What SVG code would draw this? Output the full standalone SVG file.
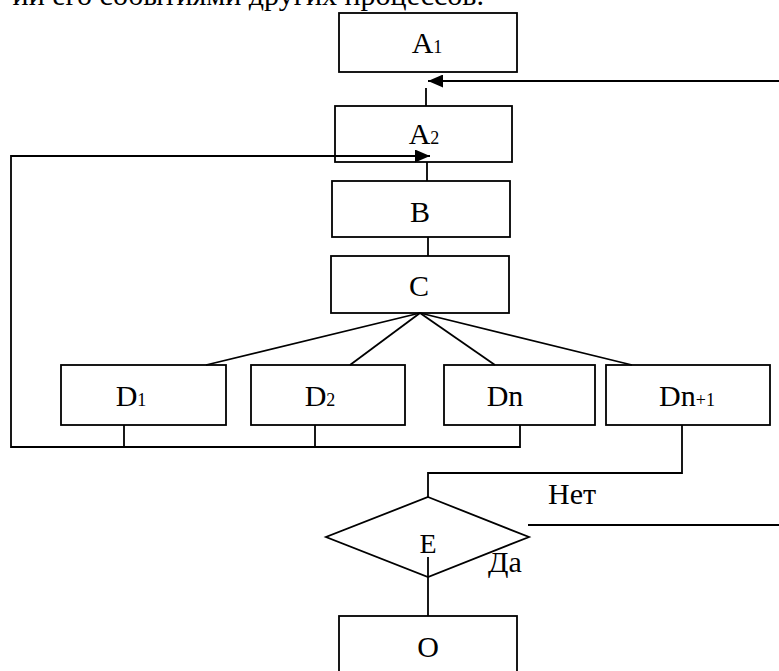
<svg xmlns="http://www.w3.org/2000/svg" width="779" height="671" viewBox="0 0 779 671">
  <style>
    .box { fill: #fff; stroke: #000; stroke-width: 1.8; }
    .ln { fill: none; stroke: #000; stroke-width: 1.8; }
    text { font-family: "Liberation Serif", "Times New Roman", "DejaVu Serif", serif; fill: #000; }
    .lbl { font-size: 30px; text-anchor: middle; }
    .sub { font-size: 18px; }
    .note { font-size: 30px; }
  </style>
  <defs>
    <marker id="arrow" viewBox="0 0 15 13" refX="15" refY="6.5" markerWidth="15" markerHeight="13" markerUnits="userSpaceOnUse" orient="auto">
      <path d="M0,0 L15,6.5 L0,13 Z" fill="#000"/>
    </marker>
  </defs>
  <rect width="779" height="671" fill="#fff"/>

  <!-- tail of the paragraph above the chart -->
  <text class="note" font-family="Liberation Serif, serif" x="484" y="5" text-anchor="end">ии его событиями других процессов.</text>

  <g id="A1">
    <rect class="box" x="339" y="13" width="178" height="59"/>
    <text class="lbl" font-family="Liberation Serif, serif" x="427" y="53">A<tspan class="sub">1</tspan></text>
  </g>
  <g id="A2">
    <rect class="box" x="335" y="106" width="177" height="56"/>
    <text class="lbl" font-family="Liberation Serif, serif" x="424" y="144">A<tspan class="sub">2</tspan></text>
  </g>
  <g id="B">
    <rect class="box" x="332" y="181" width="178" height="56"/>
    <text class="lbl" font-family="Liberation Serif, serif" x="420" y="222">B</text>
  </g>
  <g id="C">
    <rect class="box" x="331" y="256" width="178" height="57"/>
    <text class="lbl" font-family="Liberation Serif, serif" x="419" y="296">C</text>
  </g>
  <g id="D1">
    <rect class="box" x="61" y="365" width="165" height="60"/>
    <text class="lbl" font-family="Liberation Serif, serif" x="131" y="406">D<tspan class="sub">1</tspan></text>
  </g>
  <g id="D2">
    <rect class="box" x="251" y="365" width="154" height="60"/>
    <text class="lbl" font-family="Liberation Serif, serif" x="320" y="406">D<tspan class="sub">2</tspan></text>
  </g>
  <g id="Dn">
    <rect class="box" x="444" y="365" width="151" height="60"/>
    <text class="lbl" font-family="Liberation Serif, serif" x="505" y="406">Dn</text>
  </g>
  <g id="Dn1">
    <rect class="box" x="606" y="365" width="164" height="60"/>
    <text class="lbl" font-family="Liberation Serif, serif" x="687" y="406">Dn<tspan class="sub">+1</tspan></text>
  </g>
  <g id="E">
    <polygon class="box" points="428,497 529,537 428,577 326,537"/>
    <text class="lbl" font-family="Liberation Serif, serif" x="428" y="553" style="font-size:28px">E</text>
  </g>
  <g id="labels">
    <text class="note" font-family="Liberation Serif, serif" x="548" y="504">Нет</text>
    <text class="note" font-family="Liberation Serif, serif" x="488" y="572">Да</text>
  </g>
  <g id="O">
    <rect class="box" x="339" y="616" width="178" height="70"/>
    <text class="lbl" font-family="Liberation Serif, serif" x="428" y="657">O</text>
  </g>

  <g id="connectors">
    <!-- return from the decision back to A1 -->
    <line class="ln" x1="779" y1="81" x2="428" y2="81" marker-end="url(#arrow)"/>
    <line class="ln" x1="426" y1="88" x2="426" y2="106"/>
    <!-- loop from D1..Dn back into A2 -->
    <polyline class="ln" points="124,425 124,447"/>
    <polyline class="ln" points="315,425 315,447"/>
    <polyline class="ln" points="520,425 520,447 11,447 11,156 430,156" marker-end="url(#arrow)"/>
    <line class="ln" x1="427" y1="162" x2="427" y2="181"/>
    <line class="ln" x1="428" y1="237" x2="428" y2="256"/>
    <!-- fan-out from C -->
    <line class="ln" x1="420" y1="313" x2="206" y2="365"/>
    <line class="ln" x1="420" y1="313" x2="350" y2="365"/>
    <line class="ln" x1="420" y1="313" x2="495" y2="365"/>
    <line class="ln" x1="420" y1="313" x2="632" y2="365"/>
    <!-- Dn+1 to decision -->
    <polyline class="ln" points="682,425 682,473 428,473 428,497"/>
    <!-- "Нет" branch -->
    <line class="ln" x1="528" y1="525" x2="779" y2="525"/>
    <!-- "Да" branch -->
    <line class="ln" x1="428" y1="557" x2="428" y2="616"/>
  </g>
</svg>
